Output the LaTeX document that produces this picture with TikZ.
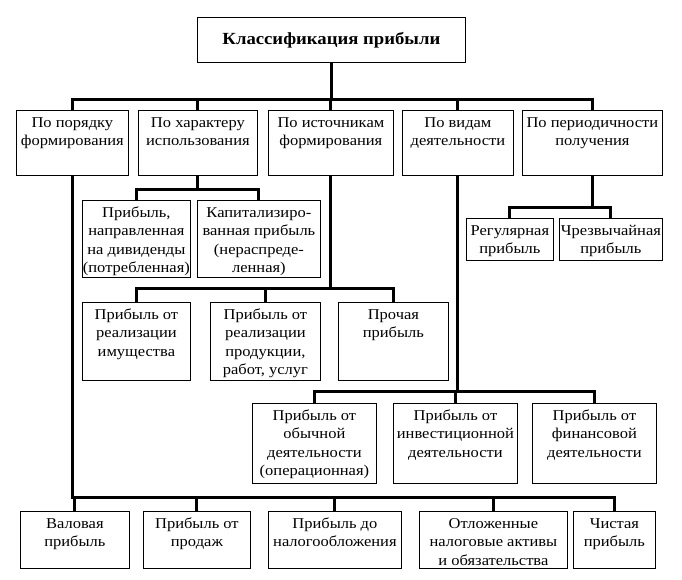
\documentclass[tikz,border=0pt]{standalone}
\usepackage{fontspec}
\setmainfont{Liberation Serif}[FakeStretch=1.1]
\newcommand{\bxt}[3]{\parbox[c][#2][t]{#1}{\centering\rule{0pt}{17pt}#3}}
\tikzset{
  box/.style={draw, line width=0.8pt, inner sep=0pt, anchor=north west, font=\fontsize{15}{18.5}\selectfont},
  conn/.style={line width=3pt}
}
\begin{document}
\begin{tikzpicture}[x=1pt,y=-1pt]
\useasboundingbox (0,0) rectangle (682,580);
% title
\node[box, font=\fontsize{17}{20}\selectfont\bfseries] (T) at (197,17) {\parbox[c][45pt][c]{268pt}{\centering Классификация прибыли}};
% level 1
\node[box] (A1) at (16,110) {\bxt{112pt}{65pt}{По порядку\\формирования}};
\node[box] (A2) at (138,110) {\bxt{119pt}{65pt}{По характеру\\использования}};
\node[box] (A3) at (268,110) {\bxt{125pt}{65pt}{По источникам\\формирования}};
\node[box] (A4) at (402,110) {\bxt{111pt}{65pt}{По видам\\деятельности}};
\node[box] (A5) at (522,110) {\bxt{140pt}{65pt}{По периодичности\\получения}};
% B
\node[box] (B1) at (82,200) {\bxt{108pt}{77pt}{Прибыль,\\направленная\\на дивиденды\\(потребленная)}};
\node[box] (B2) at (197,200) {\bxt{123pt}{77pt}{Капитализиро-\\ванная прибыль\\(нераспреде-\\ленная)}};
% C
\node[box] (C1) at (82,302) {\bxt{108pt}{78pt}{Прибыль от\\реализации\\имущества}};
\node[box] (C2) at (210,302) {\bxt{110pt}{78pt}{Прибыль от\\реализации\\продукции,\\работ, услуг}};
\node[box] (C3) at (338,302) {\bxt{110pt}{78pt}{Прочая\\прибыль}};
% D
\node[box] (D1) at (466,218) {\bxt{87pt}{42pt}{Регулярная\\прибыль}};
\node[box] (D2) at (559,218) {\bxt{103pt}{42pt}{Чрезвычайная\\прибыль}};
% E
\node[box] (E1) at (252,403) {\bxt{124pt}{80pt}{Прибыль от\\обычной\\деятельности\\(операционная)}};
\node[box] (E2) at (393,403) {\bxt{124pt}{80pt}{Прибыль от\\инвестиционной\\деятельности}};
\node[box] (E3) at (532,403) {\bxt{124pt}{80pt}{Прибыль от\\финансовой\\деятельности}};
% F
\node[box] (F1) at (20,511) {\bxt{109pt}{57pt}{Валовая\\прибыль}};
\node[box] (F2) at (143,511) {\bxt{107pt}{57pt}{Прибыль от\\продаж}};
\node[box] (F3) at (268,511) {\bxt{133pt}{57pt}{Прибыль до\\налогообложения}};
\node[box] (F4) at (419,511) {\bxt{148pt}{57pt}{Отложенные\\налоговые активы\\и обязательства}};
\node[box] (F5) at (573,511) {\bxt{82pt}{57pt}{Чистая\\прибыль}};
% connectors
\foreach \c in {A1,A2,A3,A4,A5} \draw[conn] (T.south) -- ++(0,37) -| (\c.north);
\foreach \c in {B1,B2} \draw[conn] (A2.south) -- ++(0,14) -| (\c.north);
\foreach \c in {C1,C2,C3} \draw[conn] (A3.south) -- ++(0,113) -| (\c.north);
\foreach \c in {D1,D2} \draw[conn] (A5.south) -- ++(0,32) -| (\c.north);
\foreach \c in {E1,E2,E3} \draw[conn] (A4.south) -- ++(0,216) -| (\c.north);
\foreach \c in {F1,F2,F3,F4,F5} \draw[conn] (A1.south) -- ++(0,322) -| (\c.north);
\end{tikzpicture}
\end{document}
